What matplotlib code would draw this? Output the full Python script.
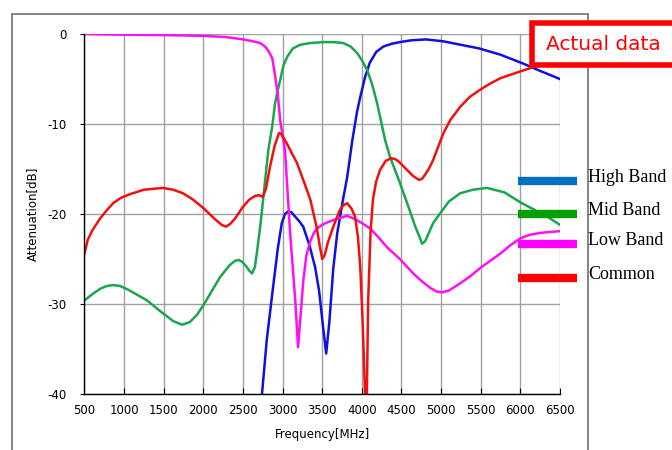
import matplotlib
matplotlib.use('Agg')
import matplotlib.pyplot as plt
from matplotlib.patches import Rectangle
from matplotlib.lines import Line2D

plt.rcParams['axes.unicode_minus'] = False

# frequency [MHz] / attenuation [dB]
high_f = [2740, 2800, 2880, 2940, 2990, 3030, 3070, 3110, 3160, 3210, 3260, 3340, 3410,
          3460, 3510, 3550, 3590, 3640, 3690, 3760, 3815, 3880, 3940, 3980, 4040, 4100,
          4180, 4270, 4370, 4480, 4620, 4810, 5020, 5250, 5480, 5750, 6040, 6250, 6500]
high_db = [-40, -34, -28.1, -23.8, -21.0, -20.0, -19.7, -19.8, -20.3, -20.8, -21.4, -23.5, -25.9,
           -28.5, -32.5, -35.5, -32.0, -26.0, -22.1, -18.5, -15.9, -11.8, -8.6, -7.0, -4.8, -3.2,
           -2.0, -1.4, -1.1, -0.9, -0.7, -0.6, -0.8, -1.2, -1.6, -2.3, -3.3, -4.1, -5.0]

mid_f = [500, 600, 700, 780, 861, 950, 1050, 1170, 1290, 1400, 1500, 1620, 1733, 1830,
         1920, 2010, 2110, 2212, 2330, 2400, 2440, 2490, 2540, 2580, 2615, 2650, 2680,
         2720, 2754, 2790, 2820, 2870, 2905, 2940, 2970, 3010, 3060, 3130, 3220, 3350,
         3510, 3640, 3765, 3860, 3940, 4000, 4067, 4130, 4193, 4294, 4357, 4470, 4572,
         4670, 4730, 4760, 4800, 4850, 4900, 4990, 5100, 5240, 5400, 5580, 5800, 6000,
         6170, 6340, 6500]
mid_db = [-29.6, -28.9, -28.3, -28.0, -27.9, -28.0, -28.4, -29.0, -29.6, -30.4, -31.1, -31.9, -32.3, -32.0,
          -31.2, -30.0, -28.5, -27.0, -25.7, -25.2, -25.1, -25.3, -25.8, -26.3, -26.6, -25.9, -24.0,
          -21.2, -18.4, -15.4, -12.9, -10.2, -7.7, -6.2, -5.1, -3.5, -2.5, -1.6, -1.2, -1.0,
          -0.9, -0.9, -1.0, -1.4, -2.1, -2.9, -4.0, -5.6, -7.7, -11.8, -13.7, -16.3, -18.8,
          -21.3, -22.6, -23.3, -23.0, -22.0, -21.0, -19.9, -18.6, -17.7, -17.3, -17.1, -17.6, -18.7,
          -19.5, -20.3, -21.2]

low_f = [500, 1000, 1500, 2000, 2300, 2500, 2620, 2717, 2780, 2830, 2870, 2905,
         2940, 2970, 3030, 3095, 3160, 3195, 3225, 3260, 3300, 3350, 3400, 3450, 3520,
         3600, 3700, 3815, 3920, 4000, 4105, 4200, 4319, 4480, 4648, 4760, 4862, 4940,
         5014, 5100, 5240, 5370, 5494, 5620, 5747, 5870, 6000, 6120, 6250, 6370, 6500]
low_db = [0.0, -0.08, -0.12, -0.2, -0.35, -0.6, -0.8, -1.0, -1.4, -2.0, -2.7, -4.6,
          -6.8, -9.6, -12.9, -22.1, -29.6, -34.8, -31.5, -27.5, -24.6, -23.0, -22.0, -21.5, -21.1,
          -20.8, -20.5, -20.2, -20.6, -21.0, -21.6, -22.5, -23.7, -25.0, -26.6, -27.5, -28.2, -28.6,
          -28.7, -28.5, -27.7, -26.9, -26.0, -25.2, -24.4, -23.5, -22.7, -22.3, -22.1, -22.0,
          -21.9]

common_f = [500, 540, 600, 697, 780, 861, 960, 1073, 1250, 1490, 1620, 1745, 1870,
            1995, 2150, 2230, 2285, 2340, 2400, 2500, 2580, 2650, 2700, 2750, 2790, 2840,
            2900, 2955, 2980, 3010, 3050, 3120, 3180, 3260, 3350, 3430, 3470, 3500, 3530,
            3570, 3640, 3720, 3770, 3815, 3870, 3915, 3950, 3980, 4010, 4040, 4055, 4080,
            4110, 4140, 4180, 4230, 4300, 4370, 4420, 4470, 4570, 4650, 4720, 4760, 4800,
            4850, 4900, 4960, 5030, 5120, 5240, 5360, 5490, 5620, 5750, 5950, 6120, 6300,
            6500]
common_db = [-24.4, -22.9, -21.8, -20.5, -19.6, -18.8, -18.2, -17.8, -17.3, -17.1, -17.3, -17.7, -18.4,
             -19.3, -20.6, -21.2, -21.4, -21.1, -20.5, -19.2, -18.4, -18.0, -17.9, -18.1, -17.2, -14.8,
             -12.4, -11.0, -11.1, -11.5, -12.1, -13.3, -14.3, -16.2, -18.4, -21.5, -23.6, -25.0, -24.6,
             -23.2, -21.4, -19.6, -19.0, -18.8, -19.4, -20.3, -22.5, -25.9, -32.0, -40.0, -45.0, -29.6,
             -22.0, -18.4, -16.4, -15.1, -14.1, -13.8, -13.9, -14.2, -15.1, -15.8, -16.2, -16.1, -15.6,
             -14.9, -14.0, -12.6, -11.0, -9.5, -8.1, -7.0, -6.2, -5.5, -4.9, -4.3, -3.8, -3.3,
             -2.9]

x_ticks = [500, 1000, 1500, 2000, 2500, 3000, 3500, 4000, 4500, 5000, 5500, 6000, 6500]
y_ticks = [0, -10, -20, -30, -40]

legend_names = ['High Band', 'Mid Band', 'Low Band', 'Common']
legend_colors = ['#0070c0', '#00a000', '#ff00ff', '#ff0000']

fig = plt.figure(figsize=(6.72, 4.5), dpi=100)
ax = fig.add_axes([0.1257, 0.1244, 0.7076, 0.8])

ax.plot(high_f, high_db, color='#1010e0', lw=1.8)
ax.plot(mid_f, mid_db, color='#1aa650', lw=1.8)
ax.plot(low_f, low_db, color='#ff10f0', lw=1.8)
ax.plot(common_f, common_db, color='#f01010', lw=1.8)

ax.set_xlim(500, 6500)
ax.set_ylim(-40, 0)
ax.set_xticks(x_ticks)
ax.set_yticks(y_ticks)
ax.grid(True, color='#a0a0a0', lw=1.0)
ax.set_axisbelow(True)
for s in ['top', 'right']:
   ax.spines[s].set_visible(False)
ax.spines['left'].set_linewidth(1.0)
ax.spines['bottom'].set_linewidth(1.0)
ax.tick_params(axis='x', direction='in', length=4, labelsize=8.5, pad=7)
ax.tick_params(axis='y', direction='out', length=3, labelsize=8.5, pad=10)
ax.set_xlabel('Frequency[MHz]', fontsize=8.5, labelpad=8)
ax.set_ylabel('Attenuation[dB]', fontsize=8.5, labelpad=6)

# outer frame of the screenshot
fig.add_artist(Rectangle((12/672, -0.05), 576/672, 1.05 - 14/450,
                         transform=fig.transFigure, fill=False,
                         edgecolor='#707070', lw=1.2))

# legend drawn by hand to the right
leg_y = [181, 214, 244, 278]
for name, col, py in zip(legend_names, legend_colors, leg_y):
   yf = 1 - py/450
   fig.add_artist(Line2D([518/672, 577/672], [yf, yf], transform=fig.transFigure,
                         color=col, lw=6, solid_capstyle='butt'))
   fig.text(588/672, yf + 0.008, name, fontsize=13, family='Liberation Serif',
            va='center', ha='left')

# "Actual data" callout
fig.add_artist(Rectangle((532/672, 1 - 65/450), 150/672, 42/450,
                         transform=fig.transFigure, facecolor='white',
                         edgecolor='#ff0000', lw=4, zorder=10))
fig.text(546/672, 1 - 45/450, 'Actual data', fontsize=14.5, color='#ff0000',
         va='center', ha='left', zorder=11)

fig.savefig('out.png', dpi=100)
